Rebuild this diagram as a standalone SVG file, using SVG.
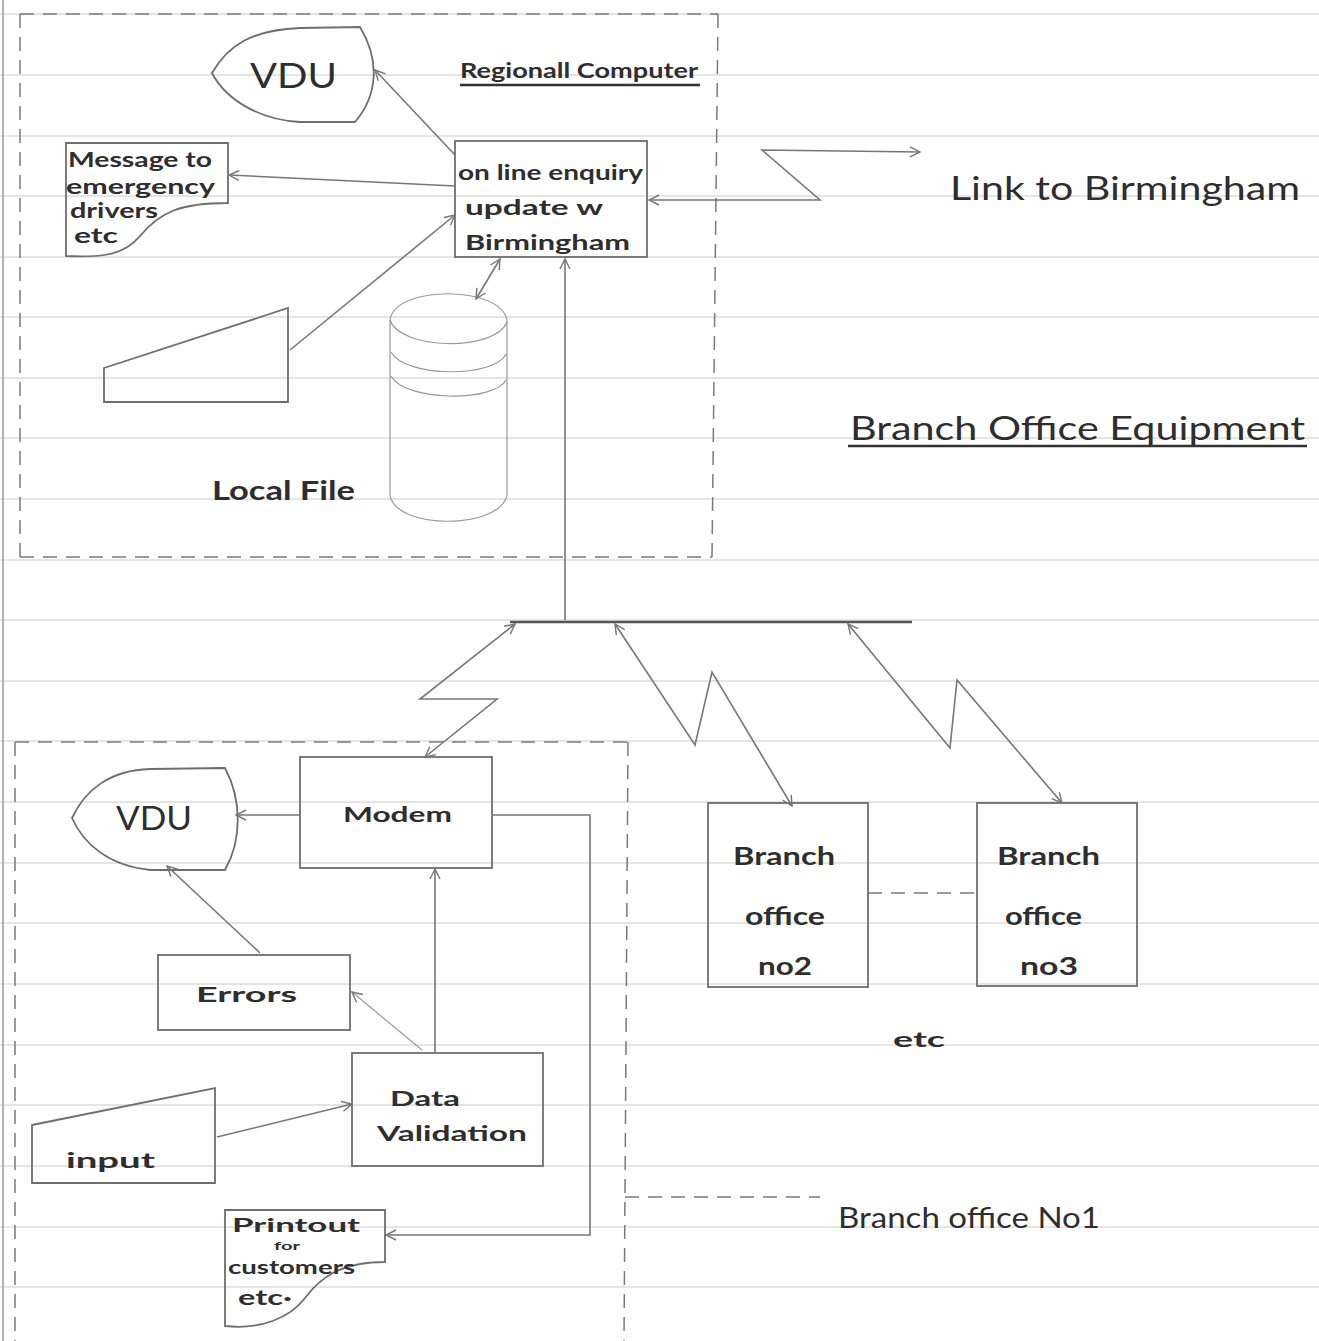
<svg xmlns="http://www.w3.org/2000/svg" width="1319" height="1341" viewBox="0 0 1319 1341">
  <defs>
    <style>
      .rule { stroke: #dcdcdc; stroke-width: 1.6; }
      .shape { fill: none; stroke: #6e6e6e; stroke-width: 1.8; }
      .wire { fill: none; stroke: #777; stroke-width: 1.6; }
      .thin { fill: none; stroke: #999; stroke-width: 1.2; }
      .dash { fill: none; stroke: #7a7a7a; stroke-width: 1.5; stroke-dasharray: 14 9; }
      .bus { fill: none; stroke: #555; stroke-width: 2.6; }
      .ul { stroke: #333; stroke-width: 2.6; }
      text { font-family: "Lato", "Liberation Sans", sans-serif; fill: #2e2e2e; font-weight: bold; }
      .lbl { font-size: 21px; }
      .big { font-size: 32px; font-weight: normal; }
    </style>
    <marker id="arr" viewBox="0 0 12 12" refX="11" refY="6" markerWidth="12" markerHeight="12" markerUnits="userSpaceOnUse" orient="auto-start-reverse">
      <path d="M1,1 L11,6 L1,11" fill="none" stroke="#777" stroke-width="1.4"/>
    </marker>
  </defs>

  <rect width="1319" height="1341" fill="#ffffff"/>

  <!-- ruled paper -->
  <g id="paper">
    <line class="rule" x1="0" y1="14" x2="1319" y2="14"/>
    <line class="rule" x1="0" y1="75" x2="1319" y2="75"/>
    <line class="rule" x1="0" y1="136" x2="1319" y2="136"/>
    <line class="rule" x1="0" y1="196" x2="1319" y2="196"/>
    <line class="rule" x1="0" y1="257" x2="1319" y2="257"/>
    <line class="rule" x1="0" y1="317" x2="1319" y2="317"/>
    <line class="rule" x1="0" y1="378" x2="1319" y2="378"/>
    <line class="rule" x1="0" y1="438" x2="1319" y2="438"/>
    <line class="rule" x1="0" y1="499" x2="1319" y2="499"/>
    <line class="rule" x1="0" y1="560" x2="1319" y2="560"/>
    <line class="rule" x1="0" y1="620" x2="1319" y2="620"/>
    <line class="rule" x1="0" y1="681" x2="1319" y2="681"/>
    <line class="rule" x1="0" y1="741" x2="1319" y2="741"/>
    <line class="rule" x1="0" y1="802" x2="1319" y2="802"/>
    <line class="rule" x1="0" y1="863" x2="1319" y2="863"/>
    <line class="rule" x1="0" y1="923" x2="1319" y2="923"/>
    <line class="rule" x1="0" y1="984" x2="1319" y2="984"/>
    <line class="rule" x1="0" y1="1045" x2="1319" y2="1045"/>
    <line class="rule" x1="0" y1="1105" x2="1319" y2="1105"/>
    <line class="rule" x1="0" y1="1166" x2="1319" y2="1166"/>
    <line class="rule" x1="0" y1="1227" x2="1319" y2="1227"/>
    <line class="rule" x1="0" y1="1287" x2="1319" y2="1287"/>
    <line x1="3" y1="0" x2="3" y2="1341" stroke="#9a9a9a" stroke-width="1.5"/>
  </g>

  <!-- system boundaries -->
  <g id="boundaries">
    <path class="dash" d="M20,14 L718,14 M20,14 L20,557 M20,557 L712,557 M718,14 L712,557"/>
    <path class="dash" d="M15,742 L630,742 M15,742 L15,1341 M628,742 L624,1341"/>
    <path class="dash" d="M625,1197 L820,1197"/>
    <path class="dash" d="M868,893 L977,893"/>
  </g>

  <!-- labels -->
  <g id="headings">
    <text class="lbl" x="460" y="78" textLength="238" lengthAdjust="spacingAndGlyphs">Regionall Computer</text>
    <line class="ul" x1="460" y1="85" x2="700" y2="85"/>
    <text class="big" x="950" y="200" textLength="350" lengthAdjust="spacingAndGlyphs">Link to Birmingham</text>
    <text class="big" x="850" y="440" textLength="455" lengthAdjust="spacingAndGlyphs">Branch Office Equipment</text>
    <line class="ul" x1="848" y1="446" x2="1307" y2="446"/>
    <text class="lbl" x="212" y="500" style="font-size:26px" textLength="143" lengthAdjust="spacingAndGlyphs">Local File</text>
    <text class="lbl" x="893" y="1047" textLength="52" lengthAdjust="spacingAndGlyphs">etc</text>
    <text class="big" x="838" y="1228" style="font-size:28px" textLength="262" lengthAdjust="spacingAndGlyphs">Branch office No1</text>
  </g>

  <!-- regional computer -->
  <g id="vdu-regional">
    <path class="shape" d="M212,73 C228,45 252,30 300,28 L360,27 C380,60 378,95 355,122 L300,122 C260,120 226,100 212,73 Z"/>
    <text x="250" y="88" style="font-size:34px; font-weight:normal" textLength="87" lengthAdjust="spacingAndGlyphs">VDU</text>
  </g>
  <g id="message-doc">
    <path class="shape" d="M66,143 L228,143 L228,203 C180,203 160,212 140,236 C125,254 105,258 66,256 Z"/>
    <text class="lbl" x="68" y="167" textLength="144" lengthAdjust="spacingAndGlyphs">Message to</text>
    <text class="lbl" x="66" y="194" textLength="149" lengthAdjust="spacingAndGlyphs">emergency</text>
    <text class="lbl" x="70" y="218" textLength="88" lengthAdjust="spacingAndGlyphs">drivers</text>
    <text class="lbl" x="74" y="243" textLength="44" lengthAdjust="spacingAndGlyphs">etc</text>
  </g>
  <g id="enquiry">
    <rect class="shape" x="455" y="141" width="192" height="116"/>
    <text class="lbl" x="458" y="180" textLength="185" lengthAdjust="spacingAndGlyphs">on line enquiry</text>
    <text class="lbl" x="465" y="215" textLength="138" lengthAdjust="spacingAndGlyphs">update w</text>
    <text class="lbl" x="465" y="250" textLength="165" lengthAdjust="spacingAndGlyphs">Birmingham</text>
  </g>
  <g id="keyboard">
    <path class="shape" d="M104,368 L288,308 L288,402 L104,402 Z"/>
  </g>
  <g id="local-file">
    <path class="thin" d="M390,320 C395,285 500,285 507,320 L507,495 C500,530 395,530 390,495 Z"/>
    <path class="thin" d="M390,320 C400,350 495,352 507,322"/>
    <path class="thin" d="M391,352 C405,378 495,378 506,354"/>
    <path class="thin" d="M391,376 C405,402 495,402 506,380"/>
  </g>

  <!-- branch office no1 -->
  <g id="modem">
    <rect class="shape" x="300" y="757" width="192" height="111"/>
    <text class="lbl" x="343" y="822" textLength="109" lengthAdjust="spacingAndGlyphs">Modem</text>
  </g>
  <g id="vdu-branch">
    <path class="shape" d="M72,818 C85,790 110,770 150,769 L225,768 C242,800 242,840 225,870 L150,870 C110,866 84,845 72,818 Z"/>
    <text x="116" y="830" style="font-size:32px; font-weight:normal" textLength="76" lengthAdjust="spacingAndGlyphs">VDU</text>
  </g>
  <g id="errors">
    <rect class="shape" x="158" y="955" width="192" height="75"/>
    <text class="lbl" x="196" y="1002" textLength="101" lengthAdjust="spacingAndGlyphs">Errors</text>
  </g>
  <g id="data-validation">
    <rect class="shape" x="352" y="1053" width="191" height="113"/>
    <text class="lbl" x="390" y="1106" textLength="70" lengthAdjust="spacingAndGlyphs">Data</text>
    <text class="lbl" x="377" y="1141" textLength="150" lengthAdjust="spacingAndGlyphs">Validation</text>
  </g>
  <g id="input">
    <path class="shape" d="M32,1125 L215,1088 L215,1183 L32,1183 Z"/>
    <text class="lbl" x="66" y="1168" textLength="89" lengthAdjust="spacingAndGlyphs">input</text>
  </g>
  <g id="printout-doc">
    <path class="shape" d="M225,1210 L385,1210 L385,1262 C340,1262 320,1278 305,1298 C290,1318 260,1330 225,1326 Z"/>
    <text class="lbl" x="232" y="1232" style="font-size:19px" textLength="128" lengthAdjust="spacingAndGlyphs">Printout</text>
    <text class="lbl" x="274" y="1250" style="font-size:12px" textLength="26" lengthAdjust="spacingAndGlyphs">for</text>
    <text class="lbl" x="228" y="1274" style="font-size:19px" textLength="127" lengthAdjust="spacingAndGlyphs">customers</text>
    <text class="lbl" x="238" y="1305" textLength="54" lengthAdjust="spacingAndGlyphs">etc·</text>
  </g>

  <!-- other branch offices -->
  <g id="branch-2">
    <rect class="shape" x="708" y="803" width="160" height="184"/>
    <text class="lbl" x="733" y="865" style="font-size:24px" textLength="102" lengthAdjust="spacingAndGlyphs">Branch</text>
    <text class="lbl" x="745" y="925" style="font-size:24px" textLength="80" lengthAdjust="spacingAndGlyphs">office</text>
    <text class="lbl" x="758" y="975" style="font-size:24px" textLength="54" lengthAdjust="spacingAndGlyphs">no2</text>
  </g>
  <g id="branch-3">
    <rect class="shape" x="977" y="803" width="160" height="183"/>
    <text class="lbl" x="997" y="865" style="font-size:24px" textLength="103" lengthAdjust="spacingAndGlyphs">Branch</text>
    <text class="lbl" x="1005" y="925" style="font-size:24px" textLength="77" lengthAdjust="spacingAndGlyphs">office</text>
    <text class="lbl" x="1020" y="975" style="font-size:24px" textLength="58" lengthAdjust="spacingAndGlyphs">no3</text>
  </g>

  <!-- connectors -->
  <g id="connectors">
    <line class="wire" x1="455" y1="155" x2="375" y2="70" marker-end="url(#arr)"/>
    <line class="wire" x1="455" y1="186" x2="229" y2="175" marker-end="url(#arr)"/>
    <line class="wire" x1="290" y1="350" x2="455" y2="215" marker-end="url(#arr)"/>
    <line class="wire" x1="476" y1="299" x2="500" y2="259" marker-start="url(#arr)" marker-end="url(#arr)"/>
    <line class="wire" x1="565" y1="620" x2="565" y2="259" marker-end="url(#arr)"/>
    <path class="wire" d="M920,152 L762,150 L820,200 L649,200" marker-start="url(#arr)" marker-end="url(#arr)"/>
    <line class="bus" x1="510" y1="622" x2="912" y2="622"/>
    <path class="wire" d="M515,624 L420,699 L497,699 L425,757" marker-start="url(#arr)" marker-end="url(#arr)"/>
    <path class="wire" d="M615,624 L695,745 L712,672 L792,806" marker-start="url(#arr)" marker-end="url(#arr)"/>
    <path class="wire" d="M848,624 L950,748 L957,680 L1062,803" marker-start="url(#arr)" marker-end="url(#arr)"/>
    <line class="wire" x1="300" y1="815" x2="236" y2="815" marker-end="url(#arr)"/>
    <path class="wire" d="M492,815 L590,815 L590,1235 L386,1235" marker-end="url(#arr)"/>
    <line class="wire" x1="260" y1="953" x2="167" y2="866" marker-end="url(#arr)"/>
    <line class="wire" x1="435" y1="1053" x2="435" y2="869" marker-end="url(#arr)"/>
    <line class="thin" x1="422" y1="1050" x2="352" y2="992" marker-end="url(#arr)"/>
    <line class="wire" x1="217" y1="1137" x2="352" y2="1104" marker-end="url(#arr)"/>
  </g>
</svg>
